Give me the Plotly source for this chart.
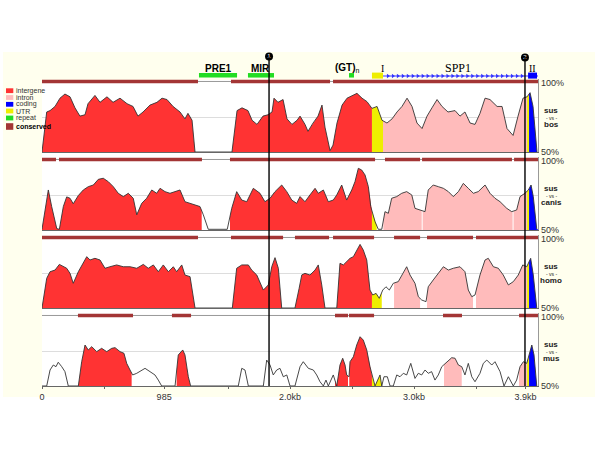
import numpy as np
import plotly.graph_objects as go

# ---- % identity curves (position in bp, % identity) ----
bos_pos = [0, 38, 65, 105, 145, 185, 226, 266, 306, 347,
           371, 427, 468, 524, 573, 629, 686, 734, 774, 815,
           871, 927, 968, 1008, 1057, 1113, 1153, 1177, 1210, 1234,
           1532, 1573, 1613, 1661, 1694, 1734, 1782, 1823, 1855, 1871,
           1903, 1944, 1976, 2016, 2057, 2081, 2121, 2145, 2186, 2226,
           2258, 2282, 2323, 2347, 2379, 2420, 2460, 2500, 2540, 2581,
           2621, 2661, 2702, 2742, 2782, 2823, 2863, 2903, 2944, 2984,
           3024, 3065, 3105, 3145, 3186, 3226, 3274, 3331, 3371, 3411,
           3452, 3492, 3532, 3573, 3613, 3670, 3710, 3750, 3799, 3839,
           3879, 3912, 3936, 3960, 3992]
bos_pct = [50, 79, 80, 83, 89, 92, 90, 82, 76, 77,
           85, 91, 86, 90, 86, 89, 85, 83, 76, 79,
           84, 86, 89, 88, 83, 79, 74, 78, 73, 50,
           50, 80, 82, 80, 73, 70, 76, 77, 79, 89,
           86, 88, 74, 70, 73, 76, 70, 65, 71, 76,
           84, 68, 51, 55, 71, 84, 89, 91, 92.5, 89,
           86.5, 81.6, 83, 73, 71, 74, 79, 83, 89, 83,
           71, 67, 76, 82, 88, 83, 79, 80, 76, 79,
           71, 70, 78, 89, 88, 83, 83, 67, 62, 76,
           89, 90, 93, 83, 50]

canis_pos = [0, 24, 51, 78, 119, 140, 172, 199, 226, 252,
             293, 333, 373, 414, 454, 494, 535, 575, 615, 656,
             696, 736, 764, 804, 844, 885, 925, 952, 992, 1032,
             1073, 1113, 1153, 1194, 1234, 1274, 1301, 1341, 1494, 1530,
             1570, 1611, 1651, 1704, 1758, 1798, 1839, 1879, 1933, 1974,
             2014, 2054, 2081, 2121, 2161, 2202, 2228, 2269, 2309, 2349,
             2377, 2417, 2457, 2498, 2524, 2551, 2578, 2605, 2632, 2651,
             2686, 2712, 2740, 2766, 2793, 2820, 2861, 2901, 2941, 2982,
             3008, 3049, 3089, 3115, 3155, 3196, 3237, 3277, 3317, 3358,
             3398, 3438, 3479, 3518, 3573, 3613, 3653, 3694, 3748, 3788,
             3828, 3855, 3895, 3922, 3944, 3962, 3990]
canis_pct = [50.5, 64.5, 79, 67, 51, 50.5, 67, 74, 73, 69,
             75, 79, 81.4, 82.6, 86.7, 87.5, 85, 81.4, 76.6, 74.2,
             76.6, 73, 61, 69.3, 73, 79, 76.6, 80.2, 77.8, 76.6,
             77.8, 79, 70.5, 69.3, 68.1, 67, 61, 50.5, 50.5, 65.7,
             77.8, 71.7, 70.5, 80.2, 76.6, 70.5, 73, 77.8, 82.6, 77.8,
             71.7, 69.3, 74.2, 70.5, 75.4, 80.2, 76.6, 79, 70.5, 71.7,
             75.4, 82.6, 71.7, 79, 85, 94.7, 93.5, 89.9, 81.4, 67,
             56, 50.5, 50.5, 63.3, 62.1, 73, 74.2, 76.6, 77.8, 75.4,
             65.7, 64.5, 63.3, 79, 82.6, 81.4, 80.2, 77.8, 74.2, 77.8,
             83.8, 80.2, 76.6, 77.8, 82.6, 76.6, 73, 70.5, 65.7, 63.3,
             64.5, 74.2, 76.6, 79, 82.6, 74.2, 50.5]

homo_pos = [0, 38, 65, 105, 140, 172, 199, 226, 252, 293,
            333, 361, 387, 427, 468, 508, 548, 602, 656, 710,
            764, 817, 857, 898, 938, 978, 1019, 1059, 1086, 1127,
            1153, 1194, 1234, 1535, 1570, 1611, 1664, 1691, 1732, 1785,
            1825, 1853, 1879, 1906, 1933, 2040, 2073, 2095, 2121, 2161,
            2202, 2228, 2256, 2282, 2377, 2403, 2430, 2457, 2484, 2511,
            2538, 2565, 2591, 2619, 2645, 2667, 2694, 2720, 2748, 2774,
            2801, 2833, 2873, 2914, 2941, 2968, 3008, 3035, 3062, 3097,
            3115, 3155, 3196, 3237, 3277, 3317, 3371, 3411, 3438, 3466,
            3492, 3532, 3573, 3599, 3640, 3680, 3720, 3761, 3801, 3841,
            3877, 3909, 3941, 3962, 3990]
homo_pct = [50, 71.5, 76.3, 77.5, 81.6, 79.9, 78.8, 75.1, 67.9, 76.3,
            82.4, 87.2, 84.8, 86, 84.8, 78.8, 79.9, 81.2, 79.9, 79.9,
            78.8, 81.6, 78.8, 81.2, 76.3, 81.2, 76.3, 79.9, 76.3, 81.2,
            73.9, 72.7, 50, 50, 78.8, 81.2, 81.2, 77.5, 73.9, 63,
            66.7, 79.9, 86.5, 78.8, 50, 50, 64, 74, 75.1, 73.9,
            77.5, 81.2, 66.7, 50, 50, 82.4, 81.2, 83.6, 86, 87.2,
            92, 96.1, 92, 84.8, 63, 59.4, 60.6, 57, 63, 65.4,
            63, 67.9, 69.1, 75.1, 79.9, 73.9, 67.9, 58.2, 55.8, 54.6,
            65.4, 70.3, 75.1, 79.9, 77.5, 78.8, 79.9, 76.3, 63, 58.2,
            59.4, 73.9, 84.8, 86, 79.9, 78.8, 73.9, 66.7, 69.1, 73.9,
            81.2, 79.9, 86, 73.9, 50]

mus_pos = [0, 38, 65, 91, 113, 131, 159, 185, 212, 293,
           320, 347, 373, 401, 441, 481, 522, 562, 589, 629,
           661, 683, 710, 731, 764, 804, 831, 871, 911, 938,
           965, 1073, 1099, 1135, 1153, 1180, 1199, 1583, 1611, 1637,
           1664, 1785, 1812, 1839, 1865, 1893, 1919, 1946, 1974, 2000,
           2040, 2081, 2107, 2148, 2188, 2215, 2242, 2269, 2290, 2309,
           2349, 2377, 2403, 2425, 2444, 2457, 2476, 2484, 2511, 2538,
           2565, 2591, 2619, 2645, 2667, 2686, 2707, 2726, 2740, 2758,
           2785, 2807, 2833, 2861, 2887, 2914, 2941, 2974, 3008, 3035,
           3062, 3089, 3115, 3142, 3169, 3196, 3224, 3264, 3304, 3331,
           3358, 3385, 3411, 3438, 3466, 3492, 3532, 3559, 3587, 3627,
           3653, 3694, 3726, 3761, 3801, 3828, 3855, 3882, 3909, 3928,
           3950, 3968, 3990]
mus_pct = [50, 50, 61.6, 65.2, 64, 67.2, 64, 60.4, 50, 50,
           67.6, 79.7, 76.1, 78.5, 74.9, 77.3, 74.9, 77.3, 77.8, 74.9,
           73.7, 66.4, 61.6, 58, 59.2, 61.6, 62.8, 60.4, 58, 54.3,
           50, 50, 72.5, 76.1, 72.5, 56.7, 50, 50, 62.8, 61.6,
           50, 50, 68.8, 65.2, 58, 61.6, 62.8, 56.7, 58, 50,
           50, 64, 67.6, 62.8, 61.6, 58, 53.1, 50, 54.3, 50,
           58, 50, 65.2, 70.1, 65.2, 58, 56.7, 67.6, 71.2, 79.7,
           85.7, 83.3, 76.1, 64, 55.5, 50, 54.3, 58, 50, 56.7,
           56.7, 50, 50, 58, 56.7, 59.2, 58, 66.4, 55.5, 59.2,
           58, 61.6, 59.2, 60.4, 54.3, 58, 64, 67.6, 70.5, 70.1,
           65.2, 64, 58, 66.4, 56.7, 53.1, 59.2, 66.4, 68.8, 65.2,
           67.6, 60.4, 50, 56.7, 50, 54.3, 64, 67.6, 66.4, 72.5,
           79.7, 72.5, 50]

# filled (conserved-window) stretches of each curve, bp
bos_fill = [(0, 1258), (1524, 4000)]
canis_fill = [(0, 1288), (1516, 2699), (2753, 3062), (3070, 3795), (3803, 4000)]
homo_fill = [(0, 1300), (1516, 1940), (2030, 2290), (2370, 2740), (2839, 3049),
             (3105, 3476), (3500, 4000)]
mus_fill = [(288, 723), (1086, 1194), (2363, 2468), (2478, 2740), (3242, 3385),
            (3847, 4000)]

# conserved-region bars above each panel, bp
bos_cons = [(0, 1258), (1524, 2323), (2347, 4000)]
canis_cons = [(0, 113), (137, 1290), (1516, 2686), (2766, 3049), (3065, 3790),
              (3807, 4000)]
homo_cons = [(0, 1258), (1524, 1944), (2040, 2315), (2347, 2678), (2839, 3049),
             (3105, 3476), (3500, 4000)]
mus_cons = [(290, 734), (1048, 1202), (2363, 2468), (2476, 2678), (3234, 3387),
            (3847, 4000)]

# annotation of the sus sequence
region_start = [0, 2661, 2750, 3912, 3928]
region_end = [2661, 2750, 3912, 3928, 4000]
region_kind = ["intergene", "UTR", "intron", "UTR", "coding"]

repeat_names = ["<b>PRE1</b>", "<b>MIR</b>", "<b>(GT)</b><sub>n</sub>"]
repeat_start = [1266, 1661, 2476]
repeat_end = [1573, 1871, 2516]
exon_names = ["I", "II"]
exon_start = [2661, 3920]
exon_end = [2750, 3992]
gene_name = "SPP1"
gene_start, gene_end = 2750, 4016
site_pos = [1831, 3895]
site_labels = ["1", "2"]

tick_vals = [0, 500, 985, 1500, 2000, 2500, 3000, 3500, 3900]
tick_text = ["0", "", "985", "", "2.0kb", "", "3.0kb", "", "3.9kb"]

species = ["bos", "canis", "homo", "mus"]
curves = {"bos": (bos_pos, bos_pct), "canis": (canis_pos, canis_pct),
          "homo": (homo_pos, homo_pct), "mus": (mus_pos, mus_pct)}
fills = {"bos": bos_fill, "canis": canis_fill, "homo": homo_fill, "mus": mus_fill}
cons = {"bos": bos_cons, "canis": canis_cons, "homo": homo_cons, "mus": mus_cons}

COL = {
    "intergene": "#FF3333",
    "intron": "#FFBBBB",
    "coding": "#0000FF",
    "UTR": "#EEEE00",
    "repeat": "#22DD22",
    "conserved": "#A33535",
}

W, H = 600, 450
ML, MR, MT, MB = 42, 62, 52, 64


def fx(p):
    return (p - ML) / (W - ML - MR)


def fy(p):
    return (H - MB - p) / (H - MT - MB)


def fill_pieces(pos, pct, ranges):
    pieces = []
    for a, b in ranges:
        for s, e, kind in zip(region_start, region_end, region_kind):
            lo, hi = max(a, s), min(b, e)
            if hi > lo:
                xs = [lo] + [p for p in pos if lo < p < hi] + [hi]
                ys = np.interp(xs, pos, pct)
                pieces.append((xs, ys, kind))
    return pieces


panel_top = [83, 161, 239, 317]
panel_h = 69
CONS_Y = 101.1

fig = go.Figure()
axes = {}
annotations = []

for i, name in enumerate(species):
    n = 4 - i
    xa = "x" if n == 1 else f"x{n}"
    ya = "y" if n == 1 else f"y{n}"
    pos, pct = curves[name]
    top = panel_top[i]
    bot = top + panel_h

    for xs, ys, kind in fill_pieces(pos, pct, fills[name]):
        fig.add_trace(go.Scatter(
            x=xs, y=ys, mode="lines", fill="tozeroy", fillcolor=COL[kind],
            line=dict(width=0, color=COL[kind]), xaxis=xa, yaxis=ya,
            hoverinfo="skip", showlegend=False,
        ))
    fig.add_trace(go.Scatter(
        x=pos, y=pct, mode="lines", line=dict(color="#333333", width=0.9),
        xaxis=xa, yaxis=ya, showlegend=False,
    ))

    # conserved bars
    fig.add_trace(go.Scatter(
        x=[0, 4000], y=[CONS_Y, CONS_Y], mode="lines",
        line=dict(color="#999999", width=1), xaxis=xa, yaxis=ya,
        hoverinfo="skip", showlegend=False,
    ))
    cx, cy = [], []
    for a, b in cons[name]:
        cx += [a, b, None]
        cy += [CONS_Y, CONS_Y, None]
    fig.add_trace(go.Scatter(
        x=cx, y=cy, mode="lines", line=dict(color=COL["conserved"], width=3.3),
        xaxis=xa, yaxis=ya, hoverinfo="skip", showlegend=False,
    ))

    axes["xaxis" + ("" if n == 1 else str(n))] = dict(
        domain=[0, 1], range=[0, 4000], anchor=ya, showgrid=False, zeroline=False,
        showline=True, linecolor="#666666", linewidth=1,
        tickvals=tick_vals, ticktext=tick_text,
        ticks="outside" if n == 1 else "", ticklen=2, tickcolor="#666666",
        showticklabels=(n == 1), tickfont=dict(size=9, color="#333333"),
        **({} if n == 1 else dict(matches="x")),
    )
    axes["yaxis" + ("" if n == 1 else str(n))] = dict(
        domain=[fy(bot), fy(top - 3 * panel_h / 50)], range=[50, 103], anchor=xa,
        tickvals=[75], showgrid=True, gridcolor="#DDDDDD", showticklabels=False,
        ticks="", zeroline=False, showline=True, side="right",
        linecolor="#999999", linewidth=1,
    )

    mid = (top + bot) / 2
    for txt, yy in [("100%", top), ("50%", bot)]:
        annotations.append(dict(
            x=fx(539), y=fy(yy), xref="paper", yref="paper", text=txt,
            xanchor="left", yanchor="middle", showarrow=False,
            font=dict(size=9, color="#333333"),
        ))
    for txt, yy, size in [("<b>sus</b>", mid - 7, 8), ("- vs -", mid, 5),
                          (f"<b>{name}</b>", mid + 7, 8)]:
        annotations.append(dict(
            x=fx(551), y=fy(yy), xref="paper", yref="paper", text=txt,
            xanchor="center", yanchor="middle", showarrow=False,
            font=dict(size=size, color="#222222"),
        ))

# ---- annotation track above the panels ----
trk = dict(xaxis="x5", yaxis="y5", hoverinfo="skip", showlegend=False)
rx, ry = [], []
for s, e in zip(repeat_start, repeat_end):
    rx += [s, e, None]
    ry += [75.3, 75.3, None]
fig.add_trace(go.Scatter(x=rx, y=ry, mode="lines",
                         line=dict(color=COL["repeat"], width=4.5), **trk))
fig.add_trace(go.Scatter(x=[gene_start, gene_end], y=[76, 76], mode="lines",
                         line=dict(color="#7777FF", width=1.5), **trk))
chev = np.arange(gene_start + 40, exon_start[1] - 10, 40)
fig.add_trace(go.Scatter(x=chev, y=[76] * len(chev), mode="markers",
                         marker=dict(symbol="triangle-right", size=4, color="#3333FF"),
                         **trk))
for s, e, c in zip(exon_start, exon_end, [COL["UTR"], COL["coding"]]):
    fig.add_trace(go.Scatter(x=[s, e], y=[75.6, 75.6], mode="lines",
                             line=dict(color=c, width=6), **trk))

for nm, s, e in zip(repeat_names, repeat_start, repeat_end):
    annotations.append(dict(x=(s + e) / 2 - (30 if "GT" in nm else 0), y=68,
                            xref="x5", yref="y5", text=nm, showarrow=False,
                            font=dict(size=10, color="black")))
for nm, s, e in zip(exon_names, exon_start, exon_end):
    annotations.append(dict(x=(s + e) / 2 + (40 if nm == "I" else 0), y=68,
                            xref="x5", yref="y5", text=nm, showarrow=False,
                            font=dict(size=10, color="black", family="Liberation Serif")))
annotations.append(dict(x=(gene_start + exon_start[1]) / 2 + 20, y=68, xref="x5",
                        yref="y5", text=gene_name, showarrow=False,
                        font=dict(size=12, color="black", family="Liberation Serif")))

axes["xaxis5"] = dict(domain=[0, 1], range=[0, 4000], anchor="y5", visible=False,
                      matches="x")
axes["yaxis5"] = dict(domain=[fy(79), 1], range=[79, 52], anchor="x5", visible=False)

# ---- background and site markers ----
shapes = [
    dict(type="rect", xref="paper", yref="paper", x0=fx(3), x1=fx(595),
         y0=fy(397), y1=fy(52), fillcolor="#FFFFEE", line=dict(width=0), layer="below"),
    dict(type="rect", xref="paper", yref="paper", x0=0, x1=1, y0=0, y1=fy(80),
         fillcolor="white", line=dict(width=0), layer="below"),
]
for p in site_pos:
    shapes.append(dict(type="line", xref="x", yref="paper", x0=p, x1=p,
                       y0=0, y1=fy(57), line=dict(color="black", width=1.4)))
fig.add_trace(go.Scatter(
    x=site_pos, y=[56.5, 57.5], mode="markers+text", text=site_labels,
    textposition="middle center", textfont=dict(size=6, color="white"),
    marker=dict(size=8, color="black"), cliponaxis=False, **trk,
))

# ---- legend ----
legend_rows = [("intergene", 90.7), ("intron", 97.5), ("coding", 104.3),
               ("UTR", 111), ("repeat", 118), ("conserved", 126.5)]
for kind, c in legend_rows:
    hh = 3.3 if kind == "conserved" else 2.4
    shapes.append(dict(type="rect", xref="paper", yref="paper", x0=fx(6), x1=fx(13.3),
                       y0=fy(c + hh), y1=fy(c - hh), fillcolor=COL[kind],
                       line=dict(width=0)))
    annotations.append(dict(
        x=fx(14), y=fy(c), xref="paper", yref="paper",
        text=f"<b>{kind}</b>" if kind == "conserved" else kind,
        xanchor="left", yanchor="middle", showarrow=False,
        font=dict(size=7, color="black" if kind == "conserved" else "#333333"),
    ))

fig.update_layout(
    width=W, height=H,
    margin=dict(l=ML, r=MR, t=MT, b=MB),
    paper_bgcolor="white",
    plot_bgcolor="rgba(0,0,0,0)",
    font=dict(family="Liberation Sans, Arial, sans-serif"),
    showlegend=False,
    shapes=shapes,
    annotations=annotations,
    **axes,
)

# the page body's default 8px margin would shift the figure
fig.write_html("out.html", config={"displayModeBar": False},
               post_script="document.body.style.margin='0px';")
